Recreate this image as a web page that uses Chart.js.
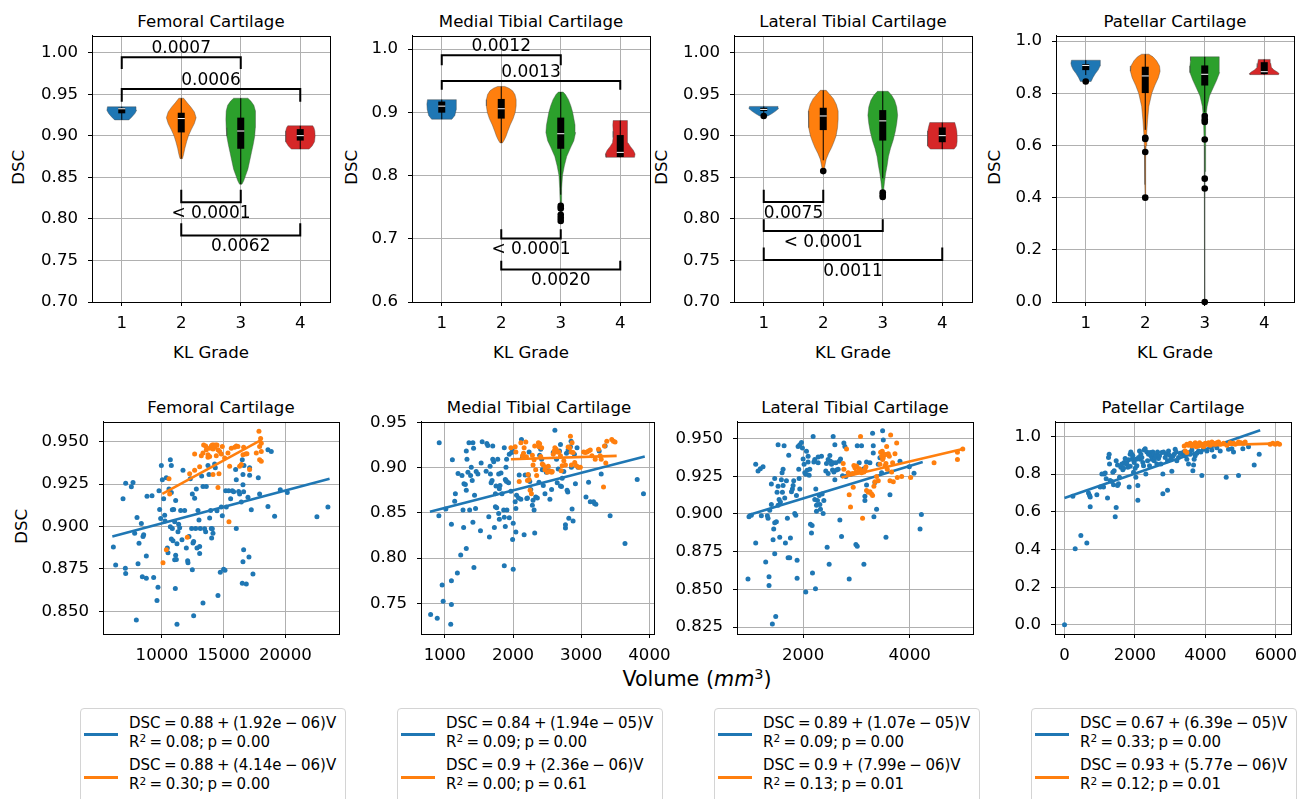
<!DOCTYPE html>
<html>
<head>
<meta charset="utf-8">
<title>DSC by KL grade and volume</title>
<script src="https://cdn.jsdelivr.net/npm/chart.js@4"></script>
<style>
    body { margin: 0; background: #fff; }
    #fig { position: relative; width: 1299px; height: 799px; overflow: hidden; background: #fff;
           font-family: 'DejaVu Sans', sans-serif; color: #000; }
    #fig canvas { position: absolute; }
    .txt { position: absolute; white-space: nowrap; }
    .legend { position: absolute; border: 1px solid #d4d4d4; border-radius: 4px; background: #fff; }
    .sample { position: absolute; height: 3px; }
    .sup { font-size: 70%; position: relative; top: -0.45em; }
    .math { word-spacing: -1.3px; }
</style>
</head>
<body>
<div id="fig"></div>
<script>
// ---------------------------------------------------------------
// Data
// ---------------------------------------------------------------
const panelTitles = ['Femoral Cartilage', 'Medial Tibial Cartilage', 'Lateral Tibial Cartilage', 'Patellar Cartilage'];
const klGrades = ['1', '2', '3', '4'];

// tick labels
const gradeTicks = [1, 2, 3, 4];
const femoralViolinTicks = [0.70, 0.75, 0.80, 0.85, 0.90, 0.95, 1.00];
const medialViolinTicks = [0.6, 0.7, 0.8, 0.9, 1.0];
const lateralViolinTicks = [0.70, 0.75, 0.80, 0.85, 0.90, 0.95, 1.00];
const patellarViolinTicks = [0.0, 0.2, 0.4, 0.6, 0.8, 1.0];
const femoralVolumeTicks = [10000, 15000, 20000];
const medialVolumeTicks = [1000, 2000, 3000, 4000];
const lateralVolumeTicks = [2000, 4000];
const patellarVolumeTicks = [0, 2000, 4000, 6000];
const femoralScatterTicks = [0.850, 0.875, 0.900, 0.925, 0.950];
const medialScatterTicks = [0.75, 0.80, 0.85, 0.90, 0.95];
const lateralScatterTicks = [0.825, 0.850, 0.875, 0.900, 0.925, 0.950];
const patellarScatterTicks = [0.0, 0.2, 0.4, 0.6, 0.8, 1.0];

// violin outlines per KL grade: [DSC, relative density]
const femoralShapes = [
    [[0.9194, 0.48], [0.923, 0.68], [0.927, 0.88], [0.931, 1], [0.9352, 0.96]],
    [[0.8727, 0.08], [0.878, 0.16], [0.885, 0.24], [0.893, 0.36], [0.900, 0.48], [0.908, 0.68], [0.915, 0.88], [0.922, 1], [0.929, 0.88], [0.935, 0.64], [0.940, 0.40], [0.9455, 0.16]],
    [[0.8419, 0.08], [0.846, 0.2], [0.852, 0.32], [0.860, 0.48], [0.870, 0.6], [0.880, 0.72], [0.890, 0.84], [0.900, 0.94], [0.910, 0.98], [0.920, 1], [0.930, 0.98], [0.937, 0.88], [0.942, 0.68], [0.9455, 0.48]],
    [[0.8842, 0.6], [0.888, 0.8], [0.893, 0.96], [0.900, 1], [0.906, 0.98], [0.910, 0.92], [0.9123, 0.84]]
];
const medialShapes = [
    [[0.889, 0.68], [0.895, 0.88], [0.905, 0.98], [0.913, 1], [0.920, 0.96]],
    [[0.8516, 0.08], [0.856, 0.2], [0.862, 0.32], [0.870, 0.44], [0.880, 0.6], [0.890, 0.8], [0.900, 0.94], [0.910, 1], [0.920, 1], [0.928, 0.92], [0.934, 0.76], [0.938, 0.52], [0.9409, 0.24]],
    [[0.725, 0.016], [0.74, 0.032], [0.76, 0.048], [0.78, 0.072], [0.80, 0.12], [0.815, 0.24], [0.83, 0.4], [0.845, 0.68], [0.855, 0.88], [0.868, 1], [0.88, 0.96], [0.89, 0.88], [0.90, 0.8], [0.91, 0.68], [0.92, 0.52], [0.928, 0.32], [0.932, 0.16]],
    [[0.8288, 0.96], [0.834, 1], [0.840, 0.88], [0.846, 0.68], [0.852, 0.52], [0.86, 0.48], [0.87, 0.48], [0.88, 0.5], [0.8869, 0.48]]
];
const lateralShapes = [
    [[0.9241, 0.28], [0.927, 0.56], [0.930, 0.8], [0.933, 1], [0.9356, 0.96]],
    [[0.857, 0.04], [0.865, 0.12], [0.872, 0.2], [0.879, 0.36], [0.886, 0.56], [0.893, 0.72], [0.900, 0.86], [0.910, 0.96], [0.920, 1], [0.930, 1], [0.938, 0.88], [0.945, 0.68], [0.950, 0.44], [0.955, 0.2]],
    [[0.826, 0.02], [0.835, 0.06], [0.845, 0.12], [0.855, 0.2], [0.865, 0.3], [0.875, 0.38], [0.885, 0.52], [0.895, 0.7], [0.905, 0.84], [0.915, 0.94], [0.925, 1], [0.935, 0.94], [0.943, 0.8], [0.949, 0.6], [0.9538, 0.36]],
    [[0.8842, 0.8], [0.888, 0.96], [0.893, 1], [0.900, 1], [0.906, 0.98], [0.911, 0.92], [0.9162, 0.84]]
];
const patellarShapes = [
    [[0.8453, 0.36], [0.86, 0.48], [0.875, 0.64], [0.89, 0.84], [0.905, 0.96], [0.915, 1], [0.927, 0.96]],
    [[0.40, 0.012], [0.45, 0.02], [0.5, 0.028], [0.55, 0.04], [0.6, 0.06], [0.65, 0.1], [0.7, 0.16], [0.75, 0.24], [0.8, 0.44], [0.83, 0.64], [0.86, 0.88], [0.885, 1], [0.905, 0.96], [0.925, 0.76], [0.94, 0.52], [0.95, 0.24]],
    [[0.0, 0.008], [0.2, 0.008], [0.4, 0.016], [0.5, 0.024], [0.6, 0.04], [0.7, 0.08], [0.75, 0.16], [0.79, 0.32], [0.82, 0.56], [0.85, 0.8], [0.88, 1], [0.905, 1], [0.925, 0.96], [0.94, 0.96]],
    [[0.8717, 0.96], [0.876, 1], [0.882, 0.88], [0.89, 0.64], [0.9, 0.48], [0.915, 0.44], [0.93, 0.4]]
];

// box statistics per KL grade
const femoralQ1 = [0.9273, 0.9043, 0.8846, 0.8945];
const femoralMedian = [0.9328, 0.9210, 0.9060, 0.9004];
const femoralQ3 = [0.9340, 0.9280, 0.9221, 0.9083];
const femoralLow = [0.9194, 0.8727, 0.8419, 0.8842];
const femoralHigh = [0.9352, 0.9455, 0.9455, 0.9123];
const femoralOutliers = [[], [], [], []];

const medialQ1 = [0.8994, 0.8900, 0.8423, 0.8293];
const medialMedian = [0.9097, 0.9056, 0.8661, 0.8366];
const medialQ3 = [0.9170, 0.9211, 0.8916, 0.8640];
const medialLow = [0.8890, 0.8516, 0.7697, 0.8288];
const medialHigh = [0.9200, 0.9409, 0.9320, 0.8869];
const medialOutliers = [[], [], [0.752, 0.748, 0.738, 0.733, 0.728], []];

const lateralQ1 = [0.9300, 0.9071, 0.8945, 0.8925];
const lateralMedian = [0.9320, 0.9241, 0.9182, 0.9004];
const lateralQ3 = [0.9340, 0.9340, 0.9312, 0.9103];
const lateralLow = [0.9270, 0.8707, 0.8490, 0.8842];
const lateralHigh = [0.9356, 0.9550, 0.9538, 0.9162];
const lateralOutliers = [[0.9241], [0.8577], [0.832, 0.829, 0.8265], []];

const patellarQ1 = [0.889, 0.801, 0.830, 0.874];
const patellarMedian = [0.907, 0.8667, 0.873, 0.883];
const patellarQ3 = [0.912, 0.902, 0.907, 0.9195];
const patellarLow = [0.870, 0.660, 0.728, 0.8717];
const patellarHigh = [0.927, 0.950, 0.940, 0.930];
const patellarOutliers = [[0.8453], [0.63, 0.625, 0.575, 0.40], [0.713, 0.70, 0.69, 0.623, 0.473, 0.435, 0.0], []];

// significance brackets: [grade a, grade b, bar DSC, leg end DSC, p-value]
const femoralBrackets = [[1, 3, 0.9948, 0.9806, '0.0007'], [1, 4, 0.9565, 0.9411, '0.0006'], [2, 3, 0.8201, 0.8352, '< 0.0001'], [2, 4, 0.7802, 0.7949, '0.0062']];
const medialBrackets = [[1, 3, 0.9900, 0.9745, '0.0012'], [1, 4, 0.9496, 0.9356, '0.0013'], [2, 3, 0.7005, 0.7150, '< 0.0001'], [2, 4, 0.6514, 0.6654, '0.0020']];
const lateralBrackets = [[1, 2, 0.8205, 0.8352, '0.0075'], [1, 3, 0.7854, 0.7996, '< 0.0001'], [1, 4, 0.7505, 0.7656, '0.0011']];
const patellarBrackets = [];

// volume (mm^3) vs DSC, two groups per cartilage
const femoralGroup1 = [[6058,0.8880],[6247,0.8773],[7057,0.9255],[7651,0.9259],[7516,0.9234],[6841,0.9163],[7030,0.8754],[7057,0.8723],[7786,0.8960],[7975,0.9053],[8326,0.9018],[8515,0.8951],[8137,0.8901],[8056,0.8781],[8731,0.8826],[8407,0.8704],[8731,0.8696],[8461,0.8941],[7921,0.8450],[8785,0.9178],[9190,0.9182],[9325,0.8700],[9676,0.8642],[9595,0.8565],[9757,0.9211],[9946,0.9359],[9811,0.9101],[9892,0.9047],[10027,0.9275],[10135,0.9163],[10216,0.9066],[10243,0.9032],[10351,0.9288],[10432,0.8874],[10486,0.8845],[10567,0.9221],[10675,0.9394],[10756,0.9359],[10756,0.9201],[10837,0.9099],[10837,0.8989],[10675,0.8999],[10756,0.8926],[10891,0.8916],[10945,0.9101],[11026,0.9028],[11107,0.9153],[11107,0.8831],[11026,0.8804],[11161,0.8806],[11296,0.8970],[11350,0.9014],[11431,0.8993],[11512,0.9095],[11215,0.8899],[11080,0.8635],[11215,0.8425],[11620,0.8922],[11701,0.9332],[11836,0.9095],[11971,0.8874],[12079,0.8799],[12106,0.8787],[12187,0.8941],[12295,0.9282],[12403,0.8989],[12457,0.9192],[12457,0.8745],[12511,0.8903],[12565,0.8912],[12646,0.9167],[12727,0.8989],[12781,0.9221],[12835,0.8874],[12916,0.9095],[12997,0.9038],[13051,0.8841],[13051,0.8883],[13105,0.8989],[13213,0.9298],[13321,0.9236],[13321,0.8550],[13456,0.8987],[13537,0.8970],[13591,0.9236],[13726,0.9359],[13807,0.9307],[13861,0.9051],[13942,0.9095],[13996,0.8989],[14077,0.8987],[14131,0.8960],[14023,0.8932],[14266,0.9369],[14320,0.9346],[14455,0.9093],[14536,0.8594],[14725,0.8731],[14806,0.9115],[14887,0.9063],[14995,0.8748],[15103,0.8743],[15157,0.9211],[15400,0.9211],[15562,0.9163],[15697,0.9211],[15805,0.9205],[15967,0.9336],[16021,0.9275],[16021,0.8989],[16210,0.9207],[16291,0.9192],[16426,0.9144],[16507,0.9394],[16561,0.9307],[16561,0.9246],[16615,0.9205],[16615,0.8864],[16561,0.8793],[16507,0.8666],[16831,0.8662],[16966,0.9172],[17047,0.8820],[17101,0.9346],[17236,0.9099],[17371,0.8720],[17803,0.9288],[17911,0.9192],[18586,0.9452],[18856,0.9442],[18586,0.9118],[19126,0.9061],[19585,0.9217],[20152,0.9201],[22555,0.9057],[23446,0.9115],[12565,0.8475],[16642,0.9359],[17101,0.9302],[15211,0.9115]];
const femoralGroup2 = [[10081,0.8787],[10351,0.8864],[10567,0.9282],[10621,0.9192],[12241,0.9311],[12052,0.8937],[12646,0.9427],[12646,0.9332],[13051,0.9352],[13186,0.9417],[13321,0.9433],[13375,0.9481],[13537,0.9475],[13591,0.9452],[13726,0.9423],[13726,0.9408],[13861,0.9461],[13861,0.9413],[13996,0.9475],[14077,0.9481],[14131,0.9456],[14185,0.9481],[14266,0.9467],[14347,0.9481],[14401,0.9417],[14455,0.9481],[14536,0.9452],[14617,0.9311],[14671,0.9442],[14536,0.9230],[14806,0.9427],[14887,0.9471],[15076,0.9404],[15346,0.9433],[15481,0.9355],[15427,0.9028],[15616,0.9461],[15886,0.9467],[16021,0.9475],[16156,0.9471],[16291,0.9355],[16426,0.9365],[16561,0.9423],[16615,0.9467],[16777,0.9427],[16885,0.9429],[17101,0.9336],[17641,0.9433],[17857,0.9562],[17911,0.9471],[17992,0.9519],[18046,0.9490],[17911,0.9394],[18046,0.9384],[18046,0.9442],[14131,0.9307]];
const femoralFit1 = [[5973, 0.8941], [23581, 0.9282]];
const femoralFit2 = [[10027, 0.9192], [18055, 0.9510]];

const medialGroup1 = [[792,0.7376],[889,0.7333],[918,0.9275],[913,0.8469],[961,0.7703],[976,0.7522],[1015,0.8542],[1087,0.7268],[1097,0.7750],[1097,0.7485],[1097,0.8375],[1111,0.9086],[1145,0.8629],[1155,0.8712],[1184,0.7834],[1194,0.8934],[1233,0.8033],[1252,0.8912],[1267,0.8531],[1276,0.8338],[1281,0.8821],[1301,0.8814],[1315,0.8106],[1315,0.9184],[1325,0.9093],[1315,0.8749],[1339,0.8948],[1354,0.9275],[1364,0.8531],[1378,0.8912],[1388,0.9003],[1402,0.8857],[1412,0.9275],[1422,0.9213],[1412,0.8396],[1427,0.7896],[1436,0.8694],[1451,0.8549],[1460,0.8956],[1485,0.8930],[1523,0.8302],[1533,0.9050],[1548,0.9286],[1606,0.8959],[1616,0.9268],[1630,0.9246],[1645,0.8458],[1654,0.8233],[1664,0.9014],[1669,0.8930],[1679,0.8832],[1693,0.8857],[1703,0.9239],[1703,0.9093],[1717,0.9064],[1727,0.8338],[1742,0.8567],[1742,0.8712],[1751,0.8796],[1761,0.8556],[1776,0.9093],[1790,0.8930],[1790,0.8494],[1800,0.8429],[1800,0.8767],[1809,0.8803],[1824,0.8941],[1839,0.8712],[1872,0.7914],[1863,0.8531],[1872,0.9220],[1872,0.8451],[1887,0.8349],[1897,0.9003],[1887,0.8868],[1897,0.8857],[1906,0.8847],[1911,0.8531],[1906,0.9093],[1935,0.8832],[1945,0.8447],[1945,0.9148],[1969,0.8738],[1979,0.9166],[1994,0.9184],[1994,0.8204],[2003,0.7877],[2003,0.8386],[2032,0.8622],[2042,0.8549],[2042,0.8288],[2052,0.8694],[2081,0.8665],[2091,0.8919],[2115,0.8651],[2124,0.9311],[2139,0.9112],[2163,0.8259],[2178,0.8919],[2202,0.8658],[2212,0.8665],[2226,0.8919],[2236,0.9173],[2246,0.8847],[2260,0.8759],[2284,0.8585],[2294,0.8640],[2309,0.8531],[2318,0.8277],[2333,0.8676],[2357,0.8665],[2381,0.8839],[2391,0.9137],[2406,0.9202],[2420,0.9093],[2430,0.8977],[2444,0.8803],[2469,0.8712],[2488,0.8948],[2527,0.8966],[2541,0.8651],[2566,0.8759],[2590,0.9166],[2614,0.9413],[2638,0.9093],[2648,0.8832],[2663,0.8985],[2682,0.9184],[2696,0.8796],[2696,0.9257],[2711,0.8792],[2721,0.8883],[2745,0.8956],[2769,0.8367],[2769,0.8331],[2784,0.9159],[2793,0.8749],[2803,0.8730],[2808,0.9195],[2818,0.8440],[2842,0.9231],[2852,0.9293],[2856,0.9003],[2866,0.8542],[2881,0.8411],[2900,0.9148],[2915,0.8821],[2939,0.9220],[2953,0.9003],[3070,0.8676],[3108,0.8839],[3133,0.8622],[3181,0.8622],[3196,0.8603],[3215,0.8596],[3264,0.9184],[3293,0.8930],[3351,0.9239],[3424,0.8469],[3642,0.8160],[3821,0.8868],[3913,0.8712]];
const medialGroup2 = [[1969,0.9220],[2032,0.9231],[2042,0.9173],[2091,0.8847],[2115,0.9275],[2139,0.9130],[2154,0.9159],[2163,0.9220],[2188,0.9282],[2197,0.9119],[2212,0.8857],[2221,0.8923],[2236,0.8868],[2251,0.8749],[2270,0.8712],[2284,0.9137],[2294,0.9028],[2309,0.9086],[2318,0.9239],[2333,0.8977],[2347,0.8912],[2372,0.9275],[2381,0.9231],[2391,0.9264],[2406,0.9122],[2420,0.9220],[2430,0.9039],[2444,0.9028],[2469,0.8977],[2478,0.9003],[2503,0.8948],[2517,0.9014],[2527,0.8956],[2551,0.8959],[2566,0.8948],[2575,0.8956],[2590,0.9148],[2604,0.9184],[2614,0.9220],[2633,0.9202],[2648,0.9173],[2672,0.9173],[2696,0.9130],[2706,0.8966],[2721,0.9021],[2745,0.9075],[2769,0.9028],[2808,0.9228],[2832,0.9220],[2842,0.9348],[2852,0.9173],[2856,0.9028],[2866,0.9275],[2881,0.9166],[2905,0.9057],[2929,0.9021],[2963,0.9003],[2987,0.9003],[3036,0.9173],[3060,0.9166],[3084,0.9173],[3108,0.9184],[3133,0.9195],[3157,0.9130],[3205,0.9093],[3278,0.9130],[3327,0.8785],[3341,0.9239],[3360,0.9050],[3375,0.9293],[3448,0.9311],[3472,0.9293],[3496,0.9282],[3293,0.9093],[3254,0.9202]];
const medialFit1 = [[782, 0.8513], [3932, 0.9122]];
const medialFit2 = [[1969, 0.9093], [3520, 0.9130]];

const lateralGroup1 = [[965,0.8569],[984,0.8981],[1028,0.8992],[1110,0.8808],[1110,0.9329],[1154,0.9285],[1197,0.9300],[1248,0.9313],[1216,0.8988],[1298,0.8682],[1329,0.8988],[1342,0.8971],[1360,0.8584],[1360,0.8526],[1373,0.9025],[1404,0.9198],[1404,0.9062],[1436,0.8829],[1448,0.8901],[1467,0.8736],[1467,0.9235],[1467,0.8942],[1486,0.8320],[1423,0.8270],[1498,0.8949],[1511,0.9144],[1530,0.9183],[1530,0.9459],[1530,0.9057],[1549,0.9096],[1561,0.8845],[1574,0.9079],[1592,0.9227],[1605,0.9274],[1611,0.9144],[1624,0.9296],[1624,0.9188],[1643,0.9452],[1655,0.9105],[1668,0.8808],[1687,0.9220],[1705,0.8971],[1718,0.8710],[1730,0.9389],[1749,0.8710],[1762,0.8840],[1781,0.9148],[1799,0.9166],[1812,0.9188],[1824,0.9220],[1843,0.9003],[1862,0.8992],[1875,0.9122],[1887,0.8693],[1887,0.8573],[1906,0.9448],[1918,0.9296],[1925,0.9235],[1937,0.9166],[1937,0.9459],[1969,0.9474],[1987,0.9437],[2000,0.9365],[2019,0.9329],[2031,0.9274],[2050,0.9263],[2050,0.8482],[2063,0.9415],[2075,0.9290],[2094,0.9383],[2094,0.9344],[2113,0.9257],[2125,0.9296],[2138,0.8931],[2157,0.8873],[2169,0.8923],[2176,0.8608],[2188,0.9513],[2201,0.9344],[2219,0.9361],[2219,0.9096],[2232,0.8504],[2238,0.9166],[2251,0.9057],[2251,0.9018],[2270,0.9090],[2282,0.9378],[2282,0.9339],[2301,0.9122],[2314,0.9062],[2326,0.9031],[2345,0.9383],[2357,0.9133],[2376,0.9003],[2389,0.9090],[2426,0.9285],[2439,0.9335],[2451,0.8780],[2470,0.9361],[2470,0.9268],[2489,0.8667],[2502,0.9387],[2514,0.9350],[2533,0.9329],[2552,0.9292],[2564,0.9339],[2564,0.9513],[2577,0.9279],[2596,0.9459],[2596,0.9227],[2614,0.9339],[2627,0.9292],[2658,0.9296],[2677,0.9350],[2690,0.8960],[2702,0.9365],[2721,0.8851],[2740,0.9253],[2765,0.9470],[2784,0.9448],[2803,0.9248],[2865,0.8569],[2890,0.9263],[2991,0.8797],[3016,0.9452],[3016,0.8786],[3053,0.9339],[3097,0.9452],[3141,0.8667],[3141,0.9300],[3160,0.9118],[3160,0.9090],[3191,0.9192],[3191,0.9344],[3254,0.9339],[3304,0.9535],[3317,0.9452],[3317,0.9405],[3329,0.8981],[3348,0.9209],[3379,0.9031],[3411,0.9329],[3442,0.9372],[3473,0.9274],[3492,0.9552],[3505,0.9491],[3555,0.8845],[3630,0.9127],[3818,0.9350],[3994,0.9313],[4082,0.9270],[4195,0.8901],[4220,0.8997]];
const lateralGroup2 = [[2752,0.9335],[2765,0.9296],[2815,0.9431],[2846,0.9274],[2865,0.9127],[2890,0.9046],[2928,0.9268],[2941,0.9177],[2953,0.9322],[2972,0.9307],[2991,0.9279],[3003,0.9318],[3035,0.9279],[3053,0.9300],[3066,0.9296],[3078,0.9513],[3097,0.9274],[3116,0.8971],[3129,0.9285],[3141,0.9279],[3160,0.9296],[3179,0.9313],[3191,0.9155],[3223,0.9144],[3254,0.9148],[3285,0.9133],[3304,0.9122],[3329,0.9183],[3348,0.9214],[3379,0.9248],[3411,0.9220],[3442,0.9329],[3455,0.9409],[3473,0.9383],[3486,0.9415],[3492,0.9361],[3505,0.9372],[3517,0.9394],[3536,0.9318],[3555,0.9335],[3568,0.9448],[3580,0.9296],[3599,0.9400],[3618,0.9383],[3630,0.9220],[3643,0.9524],[3662,0.9279],[3680,0.9339],[3693,0.9214],[3724,0.9400],[3756,0.9470],[3768,0.9242],[3850,0.9248],[4019,0.9242],[4458,0.9339],[4897,0.9361],[4997,0.9431],[4897,0.9409],[3555,0.9394]];
const lateralFit1 = [[965, 0.8992], [4245, 0.9344]];
const lateralFit2 = [[2721, 0.9242], [4997, 0.9431]];

const patellarGroup1 = [[0,0.0],[237,0.6824],[303,0.4031],[464,0.4747],[634,0.4346],[681,0.6998],[729,0.6265],[729,0.6789],[710,0.6876],[918,0.6911],[1013,0.7312],[1060,0.8010],[1107,0.7312],[1126,0.8010],[1155,0.8063],[1183,0.7749],[1221,0.6736],[1249,0.8883],[1268,0.9058],[1278,0.8534],[1297,0.7661],[1344,0.7609],[1372,0.8098],[1391,0.7435],[1410,0.8185],[1439,0.5742],[1467,0.6230],[1467,0.8709],[1505,0.7400],[1505,0.8482],[1533,0.7487],[1562,0.7836],[1599,0.8360],[1628,0.8534],[1656,0.8237],[1675,0.8307],[1694,0.8621],[1722,0.8831],[1751,0.8534],[1770,0.8586],[1798,0.8360],[1817,0.8761],[1836,0.7312],[1864,0.9058],[1864,0.8412],[1883,0.9180],[1912,0.8796],[1912,0.9058],[1940,0.8970],[1959,0.8098],[1978,0.8621],[2006,0.8307],[2025,0.7836],[2035,0.8796],[2054,0.8447],[2082,0.7400],[2082,0.6614],[2101,0.8883],[2129,0.9232],[2148,0.8796],[2167,0.9058],[2196,0.8883],[2224,0.8621],[2243,0.8447],[2262,0.9284],[2290,0.9354],[2309,0.8010],[2338,0.9180],[2357,0.8709],[2385,0.9058],[2413,0.8447],[2432,0.9145],[2451,0.8970],[2480,0.8796],[2508,0.9180],[2527,0.9058],[2546,0.8709],[2574,0.8883],[2603,0.8970],[2622,0.8534],[2640,0.9180],[2669,0.8831],[2697,0.8970],[2735,0.8534],[2763,0.9145],[2792,0.8010],[2792,0.6963],[2811,0.9180],[2858,0.8883],[2886,0.9058],[2924,0.7138],[2924,0.8709],[2953,0.9232],[2981,0.9005],[3019,0.8796],[3047,0.8150],[3076,0.8935],[3114,0.9058],[3142,0.9319],[3170,0.9180],[3189,0.8709],[3237,0.8883],[3284,0.9110],[3331,0.9058],[3379,0.9180],[3426,0.8970],[3473,0.8796],[3521,0.8534],[3549,0.9145],[3568,0.9058],[3615,0.9284],[3644,0.8185],[3663,0.8482],[3681,0.8796],[3710,0.8970],[3757,0.9110],[3805,0.9232],[3871,0.9180],[3899,0.7923],[3946,0.9319],[4041,0.9232],[4183,0.9284],[4249,0.8935],[4325,0.9407],[4420,0.9232],[4590,0.7836],[4656,0.9319],[4751,0.9354],[4798,0.9180],[4940,0.7923],[5063,0.9354],[5224,0.9459],[5385,0.8482],[5527,0.9058]];
const patellarGroup2 = [[3398,0.9494],[3426,0.9232],[3473,0.9581],[3521,0.9529],[3568,0.9634],[3615,0.9494],[3663,0.9581],[3710,0.9668],[3738,0.9459],[3757,0.9581],[3805,0.9494],[3833,0.9668],[3852,0.9529],[3899,0.9581],[3946,0.9459],[3994,0.9634],[4041,0.9581],[4088,0.9668],[4136,0.9529],[4183,0.9703],[4230,0.9634],[4278,0.9581],[4325,0.9668],[4372,0.9703],[4420,0.9581],[4514,0.9634],[4609,0.9529],[4704,0.9668],[4798,0.9634],[4845,0.9581],[4940,0.9703],[5006,0.9668],[5082,0.9634],[5129,0.9703],[5839,0.9581],[5915,0.9634],[5981,0.9581],[6047,0.9634],[6104,0.9581],[3473,0.9145]];
const patellarFit1 = [[0, 0.6736], [5555, 1.0332]];
const patellarFit2 = [[3398, 0.9494], [6142, 0.9634]];

// legend texts
const legendFit1 = ['DSC = 0.88 + (1.92e − 06)V', 'DSC = 0.84 + (1.94e − 05)V', 'DSC = 0.89 + (1.07e − 05)V', 'DSC = 0.67 + (6.39e − 05)V'];
const legendStats1 = ['0.08; p = 0.00', '0.09; p = 0.00', '0.09; p = 0.00', '0.33; p = 0.00'];
const legendFit2 = ['DSC = 0.88 + (4.14e − 06)V', 'DSC = 0.9 + (2.36e − 06)V', 'DSC = 0.9 + (7.99e − 06)V', 'DSC = 0.93 + (5.77e − 06)V'];
const legendStats2 = ['0.30; p = 0.00', '0.00; p = 0.61', '0.13; p = 0.01', '0.12; p = 0.01'];

// ---------------------------------------------------------------
// Layout / style
// ---------------------------------------------------------------
const BLUE = '#1f77b4';
const ORANGE = '#ff7f0e';
const violinColors = ['#1f77b4', '#ff7f0e', '#2ca02c', '#d62728'];
const VIOLIN_HALF = 0.25;
const FONT = "'DejaVu Sans', sans-serif";
const LABEL_SIZE = 16.6;

// plot areas [left, top, width, height]
const topAreas = [[92, 32, 238, 270], [412, 32, 238, 270], [734, 32, 238, 270], [1056, 32, 238, 270]];
const bottomAreas = [[103, 418, 236, 216], [421, 418, 236, 216], [737, 418, 236, 216], [1055, 418, 236, 216]];
const PAD_L = 100, PAD_T = 16, PAD_R = 22, PAD_B = 40;

Chart.defaults.font.family = FONT;
Chart.defaults.font.size = 16.6;
Chart.defaults.color = '#000';
Chart.defaults.animation = false;

const fig = document.getElementById('fig');

function makeCanvas(area) {
    const [x, y, w, h] = area;
    const c = document.createElement('canvas');
    c.width = w + PAD_L + PAD_R;
    c.height = h + PAD_T + PAD_B;
    c.style.left = (x - PAD_L) + 'px';
    c.style.top = (y - PAD_T) + 'px';
    c.style.width = c.width + 'px';
    c.style.height = c.height + 'px';
    fig.appendChild(c);
    return c;
}

function axis(min, max, ticks, fmt, isX) {
    return {
        type: 'linear',
        min: min,
        max: max,
        afterBuildTicks: s => { s.ticks = ticks.map(v => ({ value: v })); },
        afterFit: s => { if (isX) s.height = PAD_B; else s.width = PAD_L; },
        ticks: { callback: fmt, autoSkip: false, maxRotation: 0, padding: isX ? 8 : 10, font: { size: 16.6 }, color: '#000' },
        grid: { color: '#b0b0b0', lineWidth: 1, tickColor: '#000', tickLength: 4, drawTicks: true },
        border: { display: true, color: '#000', width: 1 }
    };
}

// top and right spines, like the other two axis borders
const framePlugin = {
    id: 'frame',
    afterDraw(chart) {
        const { ctx, chartArea: a } = chart;
        ctx.save();
        ctx.strokeStyle = '#000';
        ctx.lineWidth = 1;
        ctx.strokeRect(Math.round(a.left) + 0.5, Math.round(a.top) + 0.5,
                       Math.round(a.right - a.left), Math.round(a.bottom - a.top));
        ctx.restore();
    }
};

function bracketLabels(brackets) {
    return {
        id: 'bracketLabels',
        afterDatasetsDraw(chart) {
            const { ctx, scales: { x, y } } = chart;
            ctx.save();
            ctx.font = "17px 'DejaVu Sans'";
            ctx.fillStyle = '#000';
            ctx.textAlign = 'center';
            ctx.textBaseline = 'alphabetic';
            brackets.forEach(([a, b, bar, tip, label]) => {
                const px = x.getPixelForValue((a + b) / 2);
                const py = y.getPixelForValue(bar);
                ctx.fillText(label, px, tip < bar ? py - 4 : py + 16);
            });
            ctx.restore();
        }
    };
}

function line(points, color, width, order, extra) {
    return Object.assign({
        data: points, showLine: true, borderColor: color, borderWidth: width,
        pointRadius: 0, pointHoverRadius: 0, order: order, fill: false
    }, extra || {});
}

function violinPanel(i, yMin, yMax, yTicks, digits, shapes, q1, med, q3, lo, hi, outliers, brackets) {
    const datasets = [];
    shapes.forEach((shape, k) => {
        const g = gradeTicks[k];
        const right = shape.map(([v, d]) => ({ x: g + d * VIOLIN_HALF, y: v }));
        const left = shape.slice().reverse().map(([v, d]) => ({ x: g - d * VIOLIN_HALF, y: v }));
        const outline = right.concat(left, [right[0]]);
        datasets.push(line(outline, 'rgba(70,70,70,0.6)', 0.7, 10, { fill: 'shape', backgroundColor: violinColors[k] }));
        datasets.push(line([{ x: g, y: lo[k] }, { x: g, y: hi[k] }], '#000', 1, 9));
        datasets.push(line([{ x: g, y: q1[k] }, { x: g, y: q3[k] }], '#000', 7, 8, { borderCapStyle: 'butt' }));
        datasets.push(line([{ x: g - 0.06, y: med[k] }, { x: g + 0.06, y: med[k] }], '#fff', 1, 7));
        if (outliers[k].length) {
            datasets.push({
                data: outliers[k].map(v => ({ x: g, y: v })), backgroundColor: '#000',
                pointRadius: 3.3, pointHoverRadius: 3.3, borderWidth: 0, order: 6, clip: false
            });
        }
    });
    brackets.forEach(([a, b, bar, tip]) => {
        datasets.push(line([{ x: a, y: tip }, { x: a, y: bar }, { x: b, y: bar }, { x: b, y: tip }], '#000', 2, 5));
    });
    new Chart(makeCanvas(topAreas[i]), {
        type: 'scatter',
        data: { datasets: datasets },
        options: {
            responsive: false,
            animation: false,
            layout: { padding: { left: 0, top: PAD_T, right: PAD_R, bottom: 0 } },
            plugins: { legend: { display: false }, tooltip: { enabled: false } },
            scales: {
                x: axis(0.5, 4.5, gradeTicks, v => klGrades[v - 1], true),
                y: axis(yMin, yMax, yTicks, v => v.toFixed(digits), false)
            }
        },
        plugins: [framePlugin, bracketLabels(brackets)]
    });
}

function scatterPanel(i, xMin, xMax, xTicks, yMin, yMax, yTicks, digits, group1, group2, fit1, fit2) {
    const pts = arr => arr.map(([v, d]) => ({ x: v, y: d }));
    new Chart(makeCanvas(bottomAreas[i]), {
        type: 'scatter',
        data: {
            datasets: [
                { data: pts(group1), backgroundColor: BLUE, pointRadius: 2.5, pointHoverRadius: 2.5, borderWidth: 0, order: 4 },
                line(pts(fit1), BLUE, 2.6, 3),
                { data: pts(group2), backgroundColor: ORANGE, pointRadius: 2.5, pointHoverRadius: 2.5, borderWidth: 0, order: 2 },
                line(pts(fit2), ORANGE, 2.6, 1)
            ]
        },
        options: {
            responsive: false,
            animation: false,
            layout: { padding: { left: 0, top: PAD_T, right: PAD_R, bottom: 0 } },
            plugins: { legend: { display: false }, tooltip: { enabled: false } },
            scales: {
                x: axis(xMin, xMax, xTicks, v => String(v), true),
                y: axis(yMin, yMax, yTicks, v => v.toFixed(digits), false)
            }
        },
        plugins: [framePlugin]
    });
}

// ---------------------------------------------------------------
// Text (titles, axis labels, legends)
// ---------------------------------------------------------------
function addText(html, x, baseline, size, center, cls) {
    const d = document.createElement('div');
    const lh = Math.round(size * 1.25);
    const b = (lh - size * 1.164) / 2 + size * 0.928;
    d.className = 'txt' + (cls ? ' ' + cls : '');
    d.innerHTML = html;
    d.style.fontSize = size + 'px';
    d.style.lineHeight = lh + 'px';
    d.style.top = (baseline - b) + 'px';
    if (center) {
        d.style.width = '600px';
        d.style.left = (x - 300) + 'px';
        d.style.textAlign = 'center';
    } else {
        d.style.left = x + 'px';
    }
    fig.appendChild(d);
}

function addVerticalText(html, baselineX, centerY, size) {
    const d = document.createElement('div');
    const lh = Math.round(size * 1.25);
    const b = (lh - size * 1.164) / 2 + size * 0.928;
    d.className = 'txt';
    d.innerHTML = html;
    d.style.fontSize = size + 'px';
    d.style.lineHeight = lh + 'px';
    d.style.width = '200px';
    d.style.textAlign = 'center';
    d.style.left = (baselineX - 100) + 'px';
    d.style.top = (centerY - b) + 'px';
    d.style.transformOrigin = '100px ' + b + 'px';
    d.style.transform = 'rotate(-90deg)';
    fig.appendChild(d);
}

const topLabelOffsets = [68, 55.5, 67.5, 56];
topAreas.forEach(([x, y, w, h], i) => {
    addText(panelTitles[i], x + w / 2, y - 4.7, LABEL_SIZE, true);
    addText('KL Grade', x + w / 2, y + h + 56, LABEL_SIZE, true);
    addVerticalText('DSC', x - topLabelOffsets[i], y + h / 2, LABEL_SIZE);
});
bottomAreas.forEach(([x, y, w, h], i) => {
    addText(panelTitles[i], x + w / 2, y - 5, LABEL_SIZE, true);
});
addVerticalText('DSC', bottomAreas[0][0] - 76, bottomAreas[0][1] + bottomAreas[0][3] / 2, LABEL_SIZE);
addText('Volume (<i>mm</i><span class="sup">3</span>)', 697, 686, 20.7, true);

const legendLefts = [80, 397, 714, 1031];
legendLefts.forEach((L, i) => {
    const box = document.createElement('div');
    box.className = 'legend';
    box.style.left = L + 'px';
    box.style.top = '708px';
    box.style.width = '264px';
    box.style.height = '120px';
    fig.appendChild(box);
    [[BLUE, 734.3], [ORANGE, 777]].forEach(([color, yy]) => {
        const s = document.createElement('div');
        s.className = 'sample';
        s.style.background = color;
        s.style.left = (L + 4) + 'px';
        s.style.width = '34px';
        s.style.top = (yy - 1.5) + 'px';
        fig.appendChild(s);
    });
    addText(legendFit1[i], L + 49, 728.3, 15, false, 'math');
    addText('R<span class="sup">2</span> = ' + legendStats1[i], L + 49, 747.3, 15, false, 'math');
    addText(legendFit2[i], L + 49, 770.7, 15, false, 'math');
    addText('R<span class="sup">2</span> = ' + legendStats2[i], L + 49, 790, 15, false, 'math');
});

// ---------------------------------------------------------------
// Charts
// ---------------------------------------------------------------
violinPanel(0, 0.70, 1.0205, femoralViolinTicks, 2, femoralShapes, femoralQ1, femoralMedian, femoralQ3, femoralLow, femoralHigh, femoralOutliers, femoralBrackets);
violinPanel(1, 0.60, 1.0207, medialViolinTicks, 1, medialShapes, medialQ1, medialMedian, medialQ3, medialLow, medialHigh, medialOutliers, medialBrackets);
violinPanel(2, 0.70, 1.0205, lateralViolinTicks, 2, lateralShapes, lateralQ1, lateralMedian, lateralQ3, lateralLow, lateralHigh, lateralOutliers, lateralBrackets);
violinPanel(3, 0.0, 1.02, patellarViolinTicks, 1, patellarShapes, patellarQ1, patellarMedian, patellarQ3, patellarLow, patellarHigh, patellarOutliers, patellarBrackets);

scatterPanel(0, 5219, 24344, femoralVolumeTicks, 0.8367, 0.9616, femoralScatterTicks, 3, femoralGroup1, femoralGroup2, femoralFit1, femoralFit2);
scatterPanel(1, 651, 4074, medialVolumeTicks, 0.716, 0.9505, medialScatterTicks, 2, medialGroup1, medialGroup2, medialFit1, medialFit2);
scatterPanel(2, 759, 5189, lateralVolumeTicks, 0.8204, 0.961, lateralScatterTicks, 3, lateralGroup1, lateralGroup2, lateralFit1, lateralFit2);
scatterPanel(3, -270, 6430, patellarVolumeTicks, -0.049, 1.077, patellarScatterTicks, 1, patellarGroup1, patellarGroup2, patellarFit1, patellarFit2);
</script>
</body>
</html>
